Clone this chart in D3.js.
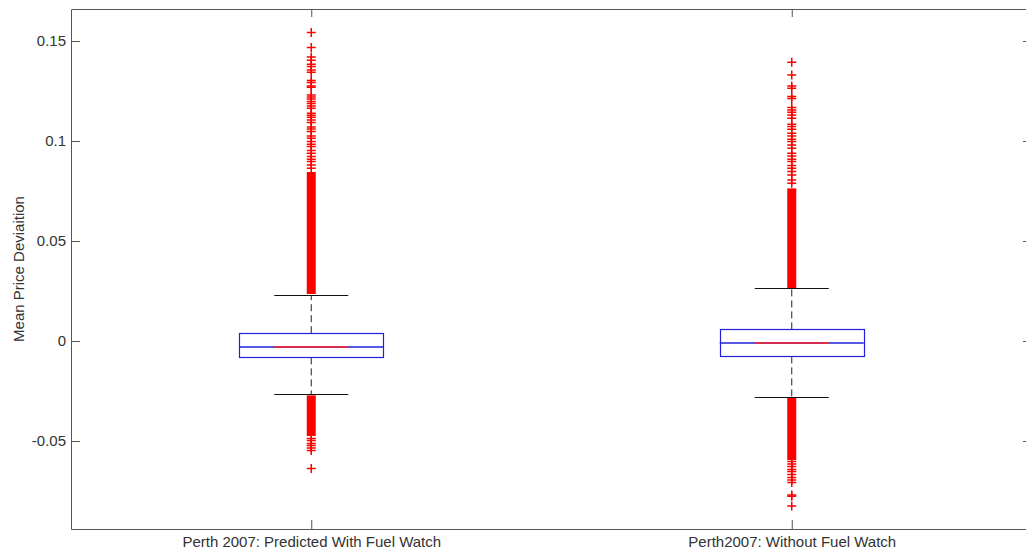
<!DOCTYPE html>
<html>
<head>
<meta charset="utf-8">
<script src="https://cdn.jsdelivr.net/npm/d3@7"></script>
<style>
  body { margin: 0; background: #fff; overflow: hidden; }
  text { font-family: "Liberation Sans", Arial, sans-serif; }
</style>
</head>
<body>
<div id="chart"></div>
<script>
const w = 1026;
const h = 553;

// categories and box statistics
const categories = ["Perth 2007: Predicted With Fuel Watch", "Perth2007: Without Fuel Watch"];
const q1 = [-0.0082, -0.0077];
const medians = [-0.0032, -0.0012];
const q3 = [0.0039, 0.0058];
const whiskerLow = [-0.0267, -0.028];
const whiskerHigh = [0.023, 0.0263];

// outliers so dense they merge into a solid stripe: [from, to]
const denseBands = [
    [[0.0235, 0.0845], [-0.0475, -0.0272]],
    [[0.0265, 0.0763], [-0.0595, -0.0282]]
];

// single outliers that can still be told apart
const outliersA = [0.1542, 0.1467, 0.142, 0.1404, 0.1384, 0.1372, 0.1355, 0.1344, 0.1302, 0.1292,
    0.1275, 0.1269, 0.123, 0.122, 0.121, 0.1197, 0.1187, 0.1175, 0.1164, 0.1139, 0.1129, 0.1119,
    0.1105, 0.1092, 0.107, 0.106, 0.1047, 0.1025, 0.1014, 0.0997, 0.0984, 0.0972, 0.0952, 0.0939,
    0.0922, 0.0909, 0.0897, 0.088, 0.0864,
    -0.0487, -0.0498, -0.0512, -0.0523, -0.0535, -0.0548, -0.0637];
const outliersB = [0.1394, 0.133, 0.1275, 0.1264, 0.1222, 0.1212, 0.1167, 0.1155, 0.1144, 0.113,
    0.1114, 0.1084, 0.1072, 0.1059, 0.1039, 0.1025, 0.1009, 0.0997, 0.098, 0.0964, 0.0939, 0.0925,
    0.0909, 0.0897, 0.0877, 0.0864, 0.0847, 0.083, 0.0805, 0.0789,
    -0.0603, -0.0615, -0.0628, -0.0642, -0.0653, -0.0667, -0.0682, -0.0695, -0.0708,
    -0.077, -0.0776, -0.0825];
const outliers = [outliersA, outliersB];

const yTicks = [-0.05, 0, 0.05, 0.1, 0.15];
const yTickLabels = ["-0.05", "0", "0.05", "0.1", "0.15"];
const yDomain = [-0.094, 0.166];

// the right edge of the axes box sits just past the window
const margin = {top: 9, right: -6, bottom: 24, left: 71};

const svg = d3.select("#chart")
                .append("svg")
                .attr("width", w)
                .attr("height", h);

const x = d3.scalePoint()
            .domain(categories)
            .range([margin.left, w - margin.right])
            .padding(0.5);

const y = d3.scaleLinear()
            .domain(yDomain)
            .range([h - margin.bottom, margin.top]);

// snap thin horizontal lines to the pixel grid
const py = v => Math.round(y(v)) + 0.5;

const boxHalf = 72;
const capHalf = 37;
const bandHalf = 4.5;
const boxColor = "#2020dd";
const medianColor = "#ff2020";

// axes
const axisColor = "#555";
const labelColor = "#333";

function styleAxis(g) {
    g.select(".domain").attr("stroke", axisColor);
    g.selectAll(".tick line").attr("stroke", axisColor);
    g.selectAll(".tick text")
        .attr("fill", labelColor)
        .style("font-size", "15px")
        .style("font-family", '"Liberation Sans", Arial, sans-serif');
}

svg.append("g")
    .attr("transform", "translate(" + margin.left + ",0)")
    .call(d3.axisLeft(y).tickValues(yTicks)
        .tickFormat((d, i) => yTickLabels[i])
        .tickSizeInner(-9).tickSizeOuter(0).tickPadding(5))
    .call(styleAxis);

svg.append("g")
    .attr("transform", "translate(" + (w - margin.right) + ",0)")
    .call(d3.axisRight(y).tickValues(yTicks).tickFormat("")
        .tickSizeInner(-9).tickSizeOuter(0))
    .call(styleAxis);

svg.append("g")
    .attr("transform", "translate(0," + (h - margin.bottom) + ")")
    .call(d3.axisBottom(x).tickSizeInner(-9).tickSizeOuter(0).tickPadding(7))
    .call(styleAxis);

svg.append("g")
    .attr("transform", "translate(0," + margin.top + ")")
    .call(d3.axisTop(x).tickFormat("").tickSizeInner(-8).tickSizeOuter(0))
    .call(styleAxis);

svg.append("text")
    .attr("transform", "translate(24," + ((margin.top + h - margin.bottom) / 2) + ") rotate(-90)")
    .attr("text-anchor", "middle")
    .attr("fill", labelColor)
    .style("font-size", "15px")
    .text("Mean Price Deviaition");

// boxes
const boxes = svg.selectAll(".box")
                .data(categories)
                .enter()
                .append("g")
                .attr("class", "box");

// dashed whiskers
boxes.append("line")
    .attr("x1", d => x(d)).attr("x2", d => x(d))
    .attr("y1", (d, i) => y(q3[i])).attr("y2", (d, i) => y(whiskerHigh[i]))
    .attr("stroke", "#222").attr("stroke-dasharray", "7,4");
boxes.append("line")
    .attr("x1", d => x(d)).attr("x2", d => x(d))
    .attr("y1", (d, i) => y(q1[i])).attr("y2", (d, i) => y(whiskerLow[i]))
    .attr("stroke", "#222").attr("stroke-dasharray", "7,4");

// dense outlier stripes
boxes.selectAll(".band")
    .data((d, i) => denseBands[i].map(b => ({cat: d, lo: Math.min(b[0], b[1]), hi: Math.max(b[0], b[1])})))
    .enter()
    .append("rect")
    .attr("class", "band")
    .attr("x", b => x(b.cat) - bandHalf)
    .attr("width", bandHalf * 2)
    .attr("y", b => y(b.hi))
    .attr("height", b => y(b.lo) - y(b.hi))
    .attr("fill", "#ff0000");

// single outliers as "+"
boxes.selectAll(".outlier")
    .data((d, i) => outliers[i].map(v => ({cat: d, v: v})))
    .enter()
    .append("path")
    .attr("class", "outlier")
    .attr("d", o => {
        let cx = x(o.cat), cy = y(o.v);
        return "M" + (cx - 4.5) + "," + cy + "H" + (cx + 4.5) + "M" + cx + "," + (cy - 4.5) + "V" + (cy + 4.5);
    })
    .attr("stroke", "#ff0000")
    .attr("stroke-width", 1.5)
    .attr("fill", "none");

// whisker caps
boxes.append("line")
    .attr("x1", d => x(d) - capHalf).attr("x2", d => x(d) + capHalf)
    .attr("y1", (d, i) => py(whiskerHigh[i])).attr("y2", (d, i) => py(whiskerHigh[i]))
    .attr("stroke", "#111");
boxes.append("line")
    .attr("x1", d => x(d) - capHalf).attr("x2", d => x(d) + capHalf)
    .attr("y1", (d, i) => py(whiskerLow[i])).attr("y2", (d, i) => py(whiskerLow[i]))
    .attr("stroke", "#111");

// box
boxes.append("rect")
    .attr("x", d => Math.round(x(d) - boxHalf) + 0.5)
    .attr("width", boxHalf * 2)
    .attr("y", (d, i) => py(q3[i]))
    .attr("height", (d, i) => py(q1[i]) - py(q3[i]))
    .attr("fill", "#fff")
    .attr("stroke", boxColor)
    .attr("stroke-width", 1.2);

// median: blue at the ends, red in the middle
boxes.append("line")
    .attr("x1", d => x(d) - boxHalf).attr("x2", d => x(d) + boxHalf)
    .attr("y1", (d, i) => Math.round(y(medians[i]))).attr("y2", (d, i) => Math.round(y(medians[i])))
    .attr("stroke", boxColor)
    .attr("stroke-width", 1.5);
boxes.append("line")
    .attr("x1", d => x(d) - capHalf).attr("x2", d => x(d) + capHalf)
    .attr("y1", (d, i) => Math.round(y(medians[i]))).attr("y2", (d, i) => Math.round(y(medians[i])))
    .attr("stroke", medianColor)
    .attr("stroke-width", 1.5);
</script>
</body>
</html>
